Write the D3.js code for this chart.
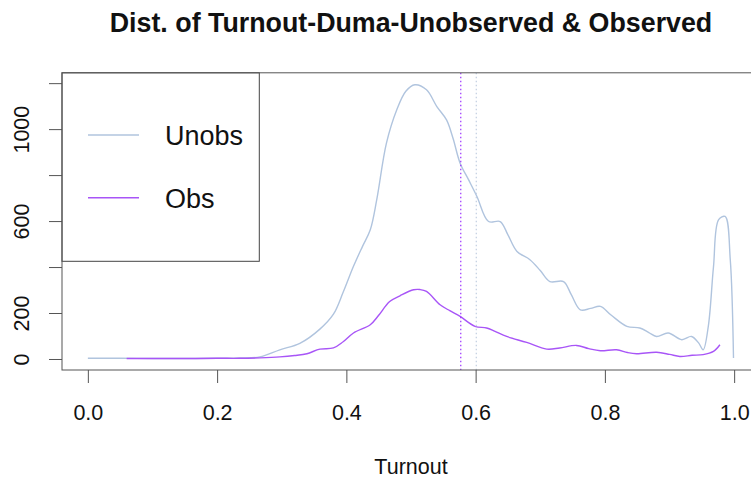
<!DOCTYPE html>
<html>
<head>
<meta charset="utf-8">
<script src="https://cdn.jsdelivr.net/npm/d3@7"></script>
<style>
  html, body { margin: 0; padding: 0; background: #fff; }
  svg { display: block; font-family: "Liberation Sans", Arial, Helvetica, sans-serif; }
</style>
</head>
<body>
<svg id="chart" width="751" height="478"></svg>
<script>
// ---- data ----
const unobsX = [0.00, 0.05, 0.10, 0.15, 0.20, 0.235, 0.266, 0.297, 0.328, 0.359, 0.380, 0.395, 0.411, 0.425, 0.437, 0.447, 0.462, 0.478, 0.492, 0.506, 0.524, 0.540, 0.555, 0.565, 0.576, 0.589, 0.602, 0.620, 0.638, 0.650, 0.664, 0.684, 0.700, 0.715, 0.736, 0.748, 0.762, 0.778, 0.793, 0.810, 0.834, 0.854, 0.868, 0.880, 0.898, 0.919, 0.934, 0.945, 0.952, 0.960, 0.968, 0.976, 0.986, 0.994, 0.999];
const unobsY = [3, 3, 2, 2, 3, 4, 9, 40, 68, 130, 195, 290, 403, 490, 562, 693, 939, 1084, 1165, 1193, 1171, 1098, 1040, 960, 852, 780, 707, 598, 598, 540, 468, 432, 385, 337, 337, 280, 214, 220, 229, 190, 142, 135, 115, 98, 113, 84, 98, 70, 40, 142, 400, 606, 620, 432, 4];

const obsX = [0.06, 0.10, 0.15, 0.20, 0.235, 0.266, 0.297, 0.320, 0.339, 0.359, 0.380, 0.395, 0.411, 0.437, 0.450, 0.467, 0.483, 0.504, 0.514, 0.524, 0.545, 0.560, 0.576, 0.599, 0.617, 0.630, 0.648, 0.679, 0.710, 0.730, 0.756, 0.775, 0.793, 0.818, 0.835, 0.849, 0.880, 0.900, 0.916, 0.935, 0.952, 0.968, 0.978];
const obsY = [2, 2, 2, 3, 3, 5, 9, 15, 23, 43, 48, 75, 113, 149, 190, 250, 275, 301, 302, 294, 236, 210, 185, 142, 135, 120, 98, 72, 43, 48, 59, 45, 36, 40, 28, 23, 29, 20, 11, 16, 19, 33, 62];

const meanLines = [0.577, 0.601];          // obs mean, unobs mean
const seriesNames = ["Unobs", "Obs"];
const seriesColors = ["#b0c4de", "#a855f7"];

const xTicks = [0, 0.2, 0.4, 0.6, 0.8, 1.0];
const yTicks = [0, 200, 400, 600, 800, 1000, 1200];
const yLabelsShown = [0, 200, 600, 1000];

const titleText = "Dist. of Turnout-Duma-Unobserved & Observed";
const xLabelText = "Turnout";

// ---- layout ----
const svg = d3.select("#chart");
const box = { left: 62, right: 760, top: 72.8, bottom: 370 };

const x = d3.scaleLinear().domain([-0.04, 1.04]).range([box.left, box.right]);
const y = d3.scaleLinear().domain([-47.9, 1245]).range([box.bottom, box.top]);

const font = '"Liberation Sans", Arial, Helvetica, sans-serif';

// title
svg.append("text")
  .attr("x", (box.left + box.right) / 2)
  .attr("y", 32)
  .attr("text-anchor", "middle")
  .attr("font-weight", "bold")
  .attr("font-size", 26.8)
  .attr("fill", "#111")
  .text(titleText);

// curves
const line = d3.line().curve(d3.curveCatmullRom.alpha(0.5))
  .x(d => x(d[0])).y(d => y(d[1]));

const clip = svg.append("clipPath").attr("id", "clip")
  .append("rect").attr("x", box.left).attr("y", box.top)
  .attr("width", box.right - box.left).attr("height", box.bottom - box.top);

const plot = svg.append("g").attr("clip-path", "url(#clip)");

plot.append("path")
  .datum(unobsX.map((v, i) => [v, unobsY[i]]))
  .attr("d", line)
  .attr("fill", "none")
  .attr("stroke", seriesColors[0])
  .attr("stroke-width", 1.4);

plot.append("path")
  .datum(obsX.map((v, i) => [v, obsY[i]]))
  .attr("d", line)
  .attr("fill", "none")
  .attr("stroke", seriesColors[1])
  .attr("stroke-width", 1.4);

// vertical dotted mean lines
plot.selectAll(".vline")
  .data(meanLines)
  .enter().append("line")
  .attr("x1", d => x(d)).attr("x2", d => x(d))
  .attr("y1", box.top).attr("y2", box.bottom)
  .attr("stroke", (d, i) => i === 0 ? "#9b30ff" : "#c0cde0")
  .attr("stroke-width", 1.2)
  .attr("stroke-dasharray", "1.5,2.5");

// x axis
const xAxis = d3.axisBottom(x).tickValues(xTicks).tickSize(13).tickPadding(21)
  .tickFormat(d3.format(".1f"));
const gx = svg.append("g").attr("transform", `translate(0,${box.bottom})`).call(xAxis);
gx.select(".domain").remove();
gx.selectAll("line").attr("stroke", "#555");
gx.selectAll("text").attr("font-family", font).attr("font-size", 21.5).attr("fill", "#111")
  .attr("dy", null).attr("y", 50);

// y axis
const yAxis = d3.axisLeft(y).tickValues(yTicks).tickSize(13)
  .tickFormat(d => yLabelsShown.includes(d) ? String(d) : "");
const gy = svg.append("g").attr("transform", `translate(${box.left},0)`).call(yAxis);
gy.select(".domain").remove();
gy.selectAll("line").attr("stroke", "#555");
gy.selectAll("text")
  .attr("font-family", font).attr("font-size", 21.5).attr("fill", "#111")
  .attr("text-anchor", "middle")
  .attr("x", null).attr("dy", null)
  .attr("transform", "translate(-33,0) rotate(-90)");

// x label
svg.append("text")
  .attr("x", (box.left + box.right) / 2)
  .attr("y", 474)
  .attr("text-anchor", "middle")
  .attr("font-size", 21.5)
  .attr("fill", "#111")
  .text(xLabelText);

// legend
const lg = svg.append("g");
lg.append("rect")
  .attr("x", box.left).attr("y", box.top)
  .attr("width", 259.3 - box.left).attr("height", 261.3 - box.top)
  .attr("fill", "#fff").attr("stroke", "#444").attr("stroke-width", 1);
const legY = [135, 197.7];
seriesNames.forEach((name, i) => {
  lg.append("line")
    .attr("x1", 88).attr("x2", 139)
    .attr("y1", legY[i]).attr("y2", legY[i])
    .attr("stroke", seriesColors[i]).attr("stroke-width", 1.4);
  lg.append("text")
    .attr("x", 165).attr("y", legY[i] + 10)
    .attr("font-size", 27).attr("fill", "#111")
    .text(name);
});

// plot box
svg.append("rect")
  .attr("x", box.left).attr("y", box.top)
  .attr("width", box.right - box.left).attr("height", box.bottom - box.top)
  .attr("fill", "none").attr("stroke", "#555").attr("stroke-width", 1);
</script>
</body>
</html>
